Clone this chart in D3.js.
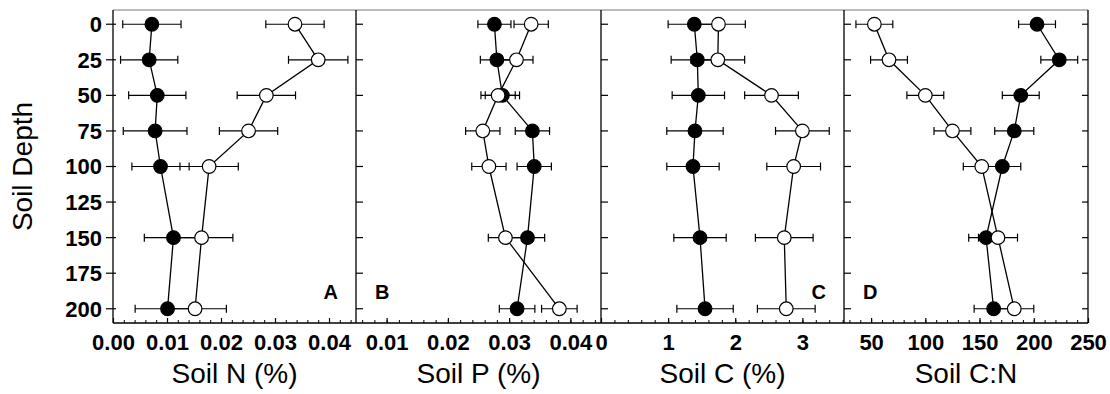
<!DOCTYPE html>
<html>
<head>
<meta charset="utf-8">
<script src="https://cdn.jsdelivr.net/npm/d3@7"></script>
<style>
  body { margin: 0; background: #fff; }
  svg { display: block; font-family: "Liberation Sans", Arial, sans-serif; }
</style>
</head>
<body>
<svg id="chart" width="1110" height="394"></svg>
<script>
// depths sampled (cm)
var depths = [0, 25, 50, 75, 100, 150, 200];
var depthTicks = [0, 25, 50, 75, 100, 125, 150, 175, 200];

// Soil N (%)
var nFilled   = [0.0072, 0.0067, 0.0082, 0.0078, 0.0088, 0.0112, 0.0101];
var nFilledSE = [0.0054, 0.0053, 0.0053, 0.0059, 0.0053, 0.0054, 0.0060];
var nOpen     = [0.0337, 0.0380, 0.0284, 0.0251, 0.0178, 0.0164, 0.0152];
var nOpenSE   = [0.0054, 0.0055, 0.0054, 0.0054, 0.0054, 0.0058, 0.0058];

// Soil P (%)
var pFilled   = [0.0276, 0.0280, 0.0289, 0.0338, 0.0341, 0.0330, 0.0313];
var pFilledSE = [0.0027, 0.0027, 0.0028, 0.0028, 0.0028, 0.0028, 0.0029];
var pOpen     = [0.0336, 0.0312, 0.0282, 0.0257, 0.0267, 0.0294, 0.0382];
var pOpenSE   = [0.0028, 0.0027, 0.0028, 0.0028, 0.0028, 0.0028, 0.0029];

// Soil C (%)
var cFilled   = [1.39, 1.435, 1.45, 1.40, 1.37, 1.475, 1.55];
var cFilledSE = [0.39, 0.39, 0.39, 0.42, 0.39, 0.39, 0.42];
var cOpen     = [1.75, 1.74, 2.54, 3.00, 2.87, 2.73, 2.76];
var cOpenSE   = [0.40, 0.40, 0.40, 0.40, 0.40, 0.43, 0.43];

// Soil C:N
var cnFilled   = [203, 223.5, 188, 182, 171, 156, 163];
var cnFilledSE = [17, 17, 17, 18, 17, 16, 18];
var cnOpen     = [53, 66.5, 100, 125, 152, 167, 182];
var cnOpenSE   = [17, 17, 17, 17, 17, 18, 18];

// axis ticks / labels
var nTicks  = [0, 0.01, 0.02, 0.03, 0.04];
var pTicks  = [0.01, 0.02, 0.03, 0.04];
var cTicks  = [0, 1, 2, 3];
var cnTicks = [50, 100, 150, 200, 250];
var titles  = ["Soil N (%)", "Soil P (%)", "Soil C (%)", "Soil C:N"];
var letters = ["A", "B", "C", "D"];

// note: "top" is taken by window.top, so plotTop
var plotTop = 10, plotBottom = 323;
var edges = [113, 356, 601, 844, 1088];

var y = d3.scaleLinear().domain([-10, 210]).range([plotTop, plotBottom]);

var panels = [
  { domain: [0, 0.045], major: nTicks, minorStep: 0.002, fmt: d3.format(".2f"),
    filled: nFilled, filledSE: nFilledSE, open: nOpen, openSE: nOpenSE, letterRight: true },
  { domain: [0.005, 0.045], major: pTicks, minorStep: 0.002, fmt: d3.format(".2f"),
    filled: pFilled, filledSE: pFilledSE, open: pOpen, openSE: pOpenSE, letterRight: false },
  { domain: [0, 3.62], major: cTicks, minorStep: 0.2, fmt: d3.format("d"),
    filled: cFilled, filledSE: cFilledSE, open: cOpen, openSE: cOpenSE, letterRight: true },
  { domain: [25, 250], major: cnTicks, minorStep: 10, fmt: d3.format("d"),
    filled: cnFilled, filledSE: cnFilledSE, open: cnOpen, openSE: cnOpenSE, letterRight: false }
];

var svg = d3.select("#chart");

// thin top border
svg.append("line")
  .attr("x1", edges[0]).attr("x2", edges[4])
  .attr("y1", plotTop).attr("y2", plotTop)
  .attr("stroke", "#555").attr("stroke-width", 0.8);

// bottom line
svg.append("line")
  .attr("x1", edges[0]).attr("x2", edges[4])
  .attr("y1", plotBottom).attr("y2", plotBottom)
  .attr("stroke", "#000").attr("stroke-width", 1.4);

panels.forEach(function(p, i) {
  var x0 = edges[i], x1 = edges[i + 1];
  var x = d3.scaleLinear().domain(p.domain).range([x0, x1]);
  var g = svg.append("g");

  // left border of the panel
  g.append("line")
    .attr("x1", x0).attr("x2", x0).attr("y1", plotTop).attr("y2", plotBottom)
    .attr("stroke", "#000").attr("stroke-width", 1.3);

  // depth ticks
  g.selectAll(".ytick")
    .data(depthTicks)
    .join("line")
    .attr("x1", i == 0 ? x0 - 7 : x0)
    .attr("x2", x0 + (i == 0 ? 3 : 7))
    .attr("y1", d => y(d)).attr("y2", d => y(d))
    .attr("stroke", "#000").attr("stroke-width", 1.2);

  if (i == 0) {
    g.selectAll(".ylab")
      .data(depthTicks)
      .join("text")
      .attr("x", x0 - 11)
      .attr("y", d => y(d))
      .attr("dy", "0.36em")
      .attr("text-anchor", "end")
      .attr("font-size", 22)
      .attr("font-weight", "bold")
      .text(d => d);
  }
  if (i == 3) {
    g.append("line")
      .attr("x1", x1).attr("x2", x1).attr("y1", plotTop).attr("y2", plotBottom)
      .attr("stroke", "#000").attr("stroke-width", 1.3);
    g.selectAll(".rtick")
      .data(depthTicks)
      .join("line")
      .attr("x1", x1 - 6).attr("x2", x1)
      .attr("y1", d => y(d)).attr("y2", d => y(d))
      .attr("stroke", "#000").attr("stroke-width", 1.2);
  }

  // minor ticks pointing up
  var minor = d3.range(Math.ceil(p.domain[0] / p.minorStep + 1e-6) * p.minorStep, p.domain[1] - 1e-9, p.minorStep)
    .filter(v => x(v) > x0 + 2);
  g.append("g")
    .attr("transform", `translate(0,${plotBottom})`)
    .call(d3.axisBottom(x).tickValues(minor).tickSize(-3).tickFormat(""))
    .call(a => a.select(".domain").remove())
    .call(a => a.selectAll("line").attr("stroke-width", 1));

  // major ticks + labels
  g.append("g")
    .attr("transform", `translate(0,${plotBottom})`)
    .call(d3.axisBottom(x).tickValues(p.major).tickSize(-5).tickPadding(11).tickFormat(p.fmt))
    .call(a => a.select(".domain").remove())
    .call(a => a.selectAll("line").attr("stroke-width", 1.2))
    .call(a => a.selectAll("text")
      .attr("font-size", 22)
      .attr("font-weight", "bold")
      .attr("font-family", "Liberation Sans, Arial, sans-serif")
      .attr("fill", "#000"));

  // axis title
  g.append("text")
    .attr("x", (x0 + x1) / 2)
    .attr("y", 383)
    .attr("text-anchor", "middle")
    .attr("font-size", 28)
    .text(titles[i]);

  // panel letter
  g.append("text")
    .attr("x", p.letterRight ? x1 - 18 : x0 + 19)
    .attr("y", 299)
    .attr("text-anchor", p.letterRight ? "end" : "start")
    .attr("font-size", 20)
    .attr("font-weight", "bold")
    .text(letters[i]);

  var series = [
    { vals: p.filled, se: p.filledSE, fill: "#000" },
    { vals: p.open, se: p.openSE, fill: "#fff" }
  ];

  var line = d3.line().x(d => x(d[0])).y(d => y(d[1]));

  series.forEach(function(s) {
    g.append("path")
      .datum(s.vals.map((v, k) => [v, depths[k]]))
      .attr("d", line)
      .attr("fill", "none")
      .attr("stroke", "#000")
      .attr("stroke-width", 1.3);
  });

  series.forEach(function(s) {
    var eb = g.append("g").attr("stroke", "#000").attr("stroke-width", 1.2);
    s.vals.forEach(function(v, k) {
      var yy = y(depths[k]), lo = x(v - s.se[k]), hi = x(v + s.se[k]);
      eb.append("line").attr("x1", lo).attr("x2", hi).attr("y1", yy).attr("y2", yy);
      eb.append("line").attr("x1", lo).attr("x2", lo).attr("y1", yy - 4).attr("y2", yy + 4);
      eb.append("line").attr("x1", hi).attr("x2", hi).attr("y1", yy - 4).attr("y2", yy + 4);
    });
  });

  series.forEach(function(s) {
    g.selectAll(null)
      .data(s.vals)
      .join("circle")
      .attr("cx", d => x(d))
      .attr("cy", (d, k) => y(depths[k]))
      .attr("r", 6.8)
      .attr("fill", s.fill)
      .attr("stroke", "#000")
      .attr("stroke-width", 1.2);
  });
});

// y axis title
svg.append("text")
  .attr("transform", `translate(32,${(plotTop + plotBottom) / 2}) rotate(-90)`)
  .attr("text-anchor", "middle")
  .attr("font-size", 28)
  .text("Soil Depth");
</script>
</body>
</html>
